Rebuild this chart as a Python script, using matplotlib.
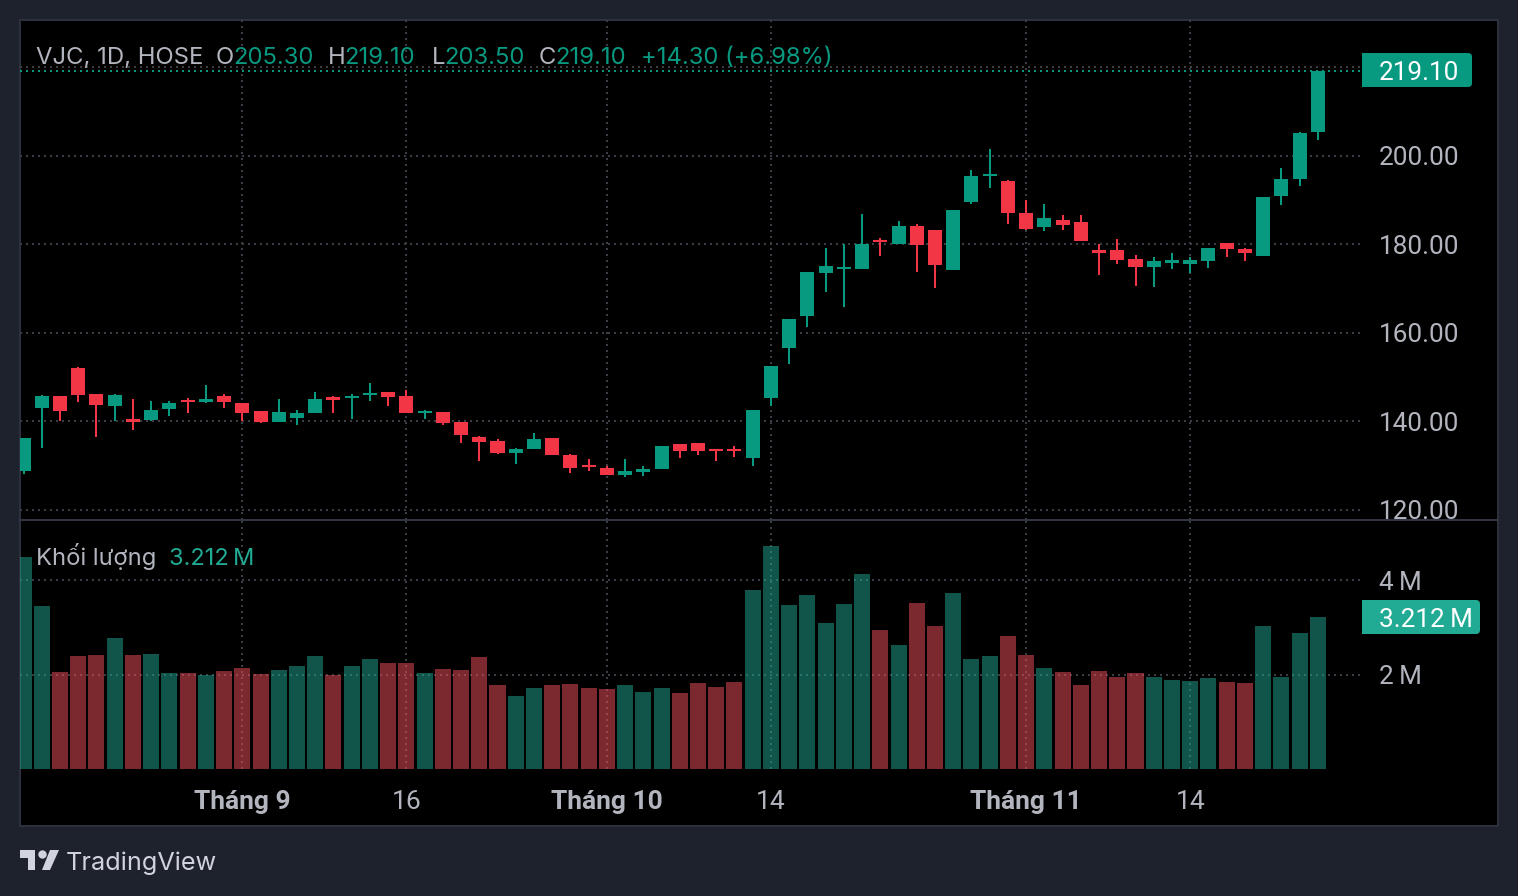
import matplotlib
matplotlib.use('Agg')
import matplotlib.pyplot as plt
from matplotlib.patches import Rectangle, FancyBboxPatch, Polygon, Circle
from matplotlib.transforms import IdentityTransform

# Roboto has digits of equal width, like the price scale in the picture
plt.rcParams['font.family'] = ['Roboto', 'DejaVu Sans']
INTER = ['Inter', 'DejaVu Sans']

# daily candles
opens = [128.8, 143.0, 145.7, 152.0, 146.2, 143.5, 140.5, 140.3, 142.8, 144.8, 144.4, 145.7,
         144.1, 142.3, 139.8, 140.8, 141.9, 145.5, 145.3, 145.9, 146.6, 145.7, 141.9, 142.1,
         139.8, 136.5, 135.6, 132.8, 133.8, 136.2, 132.4, 130.1, 129.5, 127.9, 128.6, 129.2,
         134.9, 135.1, 133.8, 133.8, 131.7, 145.3, 156.5, 163.8, 173.5, 174.4, 174.4, 180.9,
         180.0, 184.1, 183.2, 174.2, 189.5, 195.4, 194.2, 187.0, 183.9, 185.4, 185.0, 178.7,
         178.7, 176.6, 174.8, 175.7, 175.5, 176.2, 180.2, 178.9, 177.3, 190.9, 194.7, 205.3]
highs = [136.2, 145.9, 145.7, 152.3, 146.2, 146.2, 145.0, 144.6, 144.6, 145.3, 148.2, 146.2,
         144.1, 142.3, 145.0, 142.6, 146.6, 145.7, 146.2, 148.7, 146.6, 147.1, 142.6, 142.1,
         139.8, 136.7, 136.0, 134.0, 137.4, 136.2, 132.6, 131.5, 129.9, 131.5, 129.9, 134.4,
         134.9, 135.1, 133.8, 134.4, 142.6, 152.5, 163.1, 173.7, 179.1, 180.0, 186.8, 181.4,
         185.2, 184.5, 183.2, 187.7, 196.7, 201.5, 194.5, 190.0, 189.1, 186.6, 186.6, 180.0,
         181.2, 177.5, 177.1, 178.0, 177.1, 179.1, 180.2, 179.1, 190.6, 197.2, 205.3, 219.1]
lows = [128.1, 134.0, 140.1, 144.4, 136.5, 140.1, 138.0, 140.1, 141.2, 141.9, 144.1, 143.0,
        140.1, 139.6, 139.8, 139.2, 141.9, 141.9, 140.5, 144.6, 143.5, 141.9, 140.5, 139.2,
        135.1, 131.0, 132.6, 130.4, 133.8, 132.4, 128.3, 128.8, 127.9, 127.4, 127.7, 129.2,
        131.7, 132.4, 131.0, 131.9, 129.9, 143.5, 152.9, 161.3, 169.2, 165.8, 174.4, 177.3,
        180.0, 173.7, 170.1, 174.2, 189.1, 192.7, 184.5, 183.2, 183.0, 183.2, 180.7, 173.0,
        175.5, 170.5, 170.3, 174.4, 173.5, 174.6, 177.1, 176.2, 177.3, 188.8, 193.1, 203.5]
closes = [136.2, 145.7, 142.3, 145.9, 143.7, 145.9, 139.8, 142.6, 144.1, 144.4, 145.0, 144.4,
          141.9, 139.8, 142.1, 141.9, 145.0, 144.8, 145.7, 146.4, 145.5, 141.9, 142.3, 139.6,
          136.9, 135.3, 132.8, 133.8, 136.0, 132.4, 129.5, 129.7, 127.9, 128.8, 129.2, 134.4,
          133.3, 133.3, 133.3, 133.3, 142.6, 152.5, 163.1, 173.7, 175.1, 174.8, 180.0, 180.5,
          184.1, 179.8, 175.3, 187.7, 195.4, 195.8, 187.0, 183.4, 185.9, 184.3, 180.7, 178.0,
          176.4, 174.8, 176.2, 176.4, 176.4, 179.1, 178.9, 178.0, 190.6, 194.7, 205.1, 219.1]
# volume in millions
volumes = [4.487, 3.450, 2.053, 2.392, 2.413, 2.772, 2.413, 2.434, 2.032, 2.032, 1.989, 2.074,
           2.138, 2.011, 2.095, 2.180, 2.392, 1.989, 2.180, 2.328, 2.243, 2.243, 2.032, 2.116,
           2.095, 2.370, 1.778, 1.545, 1.714, 1.778, 1.799, 1.714, 1.693, 1.778, 1.630, 1.714,
           1.608, 1.820, 1.735, 1.841, 3.788, 4.720, 3.471, 3.683, 3.090, 3.492, 4.127, 2.942,
           2.624, 3.513, 3.026, 3.725, 2.328, 2.392, 2.815, 2.413, 2.138, 2.053, 1.778, 2.074,
           1.947, 2.032, 1.947, 1.884, 1.862, 1.926, 1.841, 1.820, 3.026, 1.947, 2.878, 3.212]

price_ticks = [120, 140, 160, 180, 200, 220]
price_labels = ['120.00', '140.00', '160.00', '180.00', '200.00', '']
volume_ticks = [2, 4]
volume_labels = ['2\u2009M', '4\u2009M']
# candle number of each label on the time axis
time_ticks = [12, 21, 32, 41, 55, 64]
time_labels = ['Tháng 9', '16', 'Tháng 10', '14', 'Tháng 11', '14']
last_price = 219.10
last_volume = 3.212

W, H = 1518, 896
BG = '#1E222D'
GRID = '#3A3D45'
TEXT = '#B2B5BE'
UP = '#089981'
DOWN = '#F23645'
VOL_UP = '#22AB94'
VOL_DOWN = '#F7525F'
FS = 18.8


# convert a pixel box of the screenshot to figure coordinates
def box(x0, y0, x1, y1):
    return [x0 / W, 1 - y1 / H, (x1 - x0) / W, (y1 - y0) / H]


def fx(x):
    return x / W


def fy(y):
    return 1 - y / H


fig = plt.figure(figsize=(W / 100, H / 100), dpi=100, facecolor=BG)

# black chart panel behind the axes
fig.add_artist(Rectangle((fx(20), fy(826)), 1478 / W, 806 / H, transform=fig.transFigure,
                         facecolor='black', edgecolor='#2E323E', linewidth=1.4, zorder=-5))

ax = fig.add_axes(box(20, 20, 1360, 520), facecolor='none')
ax2 = fig.add_axes(box(20, 520, 1360, 769), facecolor='none')

xs = range(len(closes))

# === Candles ===
colors = [UP if c >= o else DOWN for o, c in zip(opens, closes)]
ax.vlines(xs, lows, highs, colors=colors, linewidth=1.44, zorder=3)
ax.bar(xs, [abs(c - o) for o, c in zip(opens, closes)], bottom=[min(o, c) for o, c in zip(opens, closes)],
       width=0.77, color=colors, linewidth=0, zorder=4)
ax.axhline(last_price, color=UP, linewidth=1.44, linestyle=(0, (1, 2)), zorder=2)

# === Volume ===
vol_colors = [VOL_UP if c >= o else VOL_DOWN for o, c in zip(opens, closes)]
ax2.bar(xs, volumes, width=0.88, color=vol_colors, alpha=0.5, linewidth=0, zorder=3)

ax.set_ylim(117.72, 230.59)
ax2.set_ylim(0, 5.27)
for a in (ax, ax2):
    a.set_xlim(-0.195, 73.315)
    a.set_xticks(time_ticks)
    a.grid(True, color=GRID, linewidth=1.44, linestyle=(0, (1, 2)))
    a.set_axisbelow(True)
    for s in a.spines.values():
        s.set_visible(False)
    a.yaxis.tick_right()
    a.tick_params(axis='y', length=0, pad=13.5, labelsize=FS, labelcolor=TEXT)
    a.tick_params(axis='x', length=0)

ax.set_yticks(price_ticks, price_labels)
ax.tick_params(axis='x', labelbottom=False)
ax2.set_yticks(volume_ticks, volume_labels)

ax2.set_xticks(time_ticks, time_labels)
ax2.tick_params(axis='x', pad=15, labelsize=19, labelcolor=TEXT)
for lab in ax2.get_xticklabels():
    if lab.get_text().startswith('Tháng'):
        lab.set_fontweight('bold')

# line between the two panes
fig.add_artist(plt.Line2D([fx(20), fx(1498)], [fy(520), fy(520)], color='#343846', linewidth=1.4))

# === Header legend, each piece at its own place ===
legend_parts = [(36, 'VJC, 1D, HOSE', TEXT), (216, 'O', TEXT), (233, '205.30', UP),
                (328, 'H', TEXT), (344, '219.10', UP), (432, 'L', TEXT), (444, '203.50', UP),
                (539, 'C', TEXT), (555, '219.10', UP), (641, '+14.30 (+6.98%)', UP)]
for x, s, c in legend_parts:
    fig.text(fx(x), fy(64), s, color=c, fontsize=17.2, va='baseline', ha='left', family=INTER)

fig.text(fx(36), fy(565), 'Khối lượng', color=TEXT, fontsize=17.1, va='baseline', family=INTER)
fig.text(fx(169), fy(565), f'{last_volume}\u2009M', color=VOL_UP, fontsize=17, va='baseline', family=INTER)


# price badge on the right scale, round only on the right side
def badge(x0, y0, x1, y1, color, label):
    t = IdentityTransform()
    fig.add_artist(FancyBboxPatch((x0 + 10, H - y1), x1 - x0 - 10, y1 - y0, boxstyle='round,pad=0,rounding_size=4',
                                  transform=t, facecolor=color, edgecolor='none', zorder=6))
    fig.add_artist(Rectangle((x0, H - y1), 20, y1 - y0, transform=t, facecolor=color, edgecolor='none', zorder=6))
    fig.text(fx(x0 + 17), fy((y0 + y1) / 2 + 10), label, color='white', fontsize=FS, va='baseline', zorder=7)


badge(1362, 53, 1472, 87, UP, f'{last_price:.2f}')
badge(1362, 600, 1480, 634, VOL_UP, f'{last_volume}\u2009M')

# TradingView logo and name
LOGO = '#D1D4DC'
t = IdentityTransform()
fig.add_artist(Polygon([(20, H - 850), (35, H - 850), (35, H - 870), (28, H - 870), (28, H - 858), (20, H - 858)],
                       transform=t, facecolor=LOGO, edgecolor='none'))
fig.add_artist(Circle((42.5, H - 854.5), 4.2, transform=t, facecolor=LOGO, edgecolor='none'))
fig.add_artist(Polygon([(50, H - 850), (59, H - 850), (50, H - 870), (42, H - 870)],
                       transform=t, facecolor=LOGO, edgecolor='none'))
fig.text(fx(66), fy(870), 'TradingView', color=LOGO, fontsize=18.2, va='baseline', family=INTER)

fig.savefig('out.png', dpi=100, facecolor=BG)
